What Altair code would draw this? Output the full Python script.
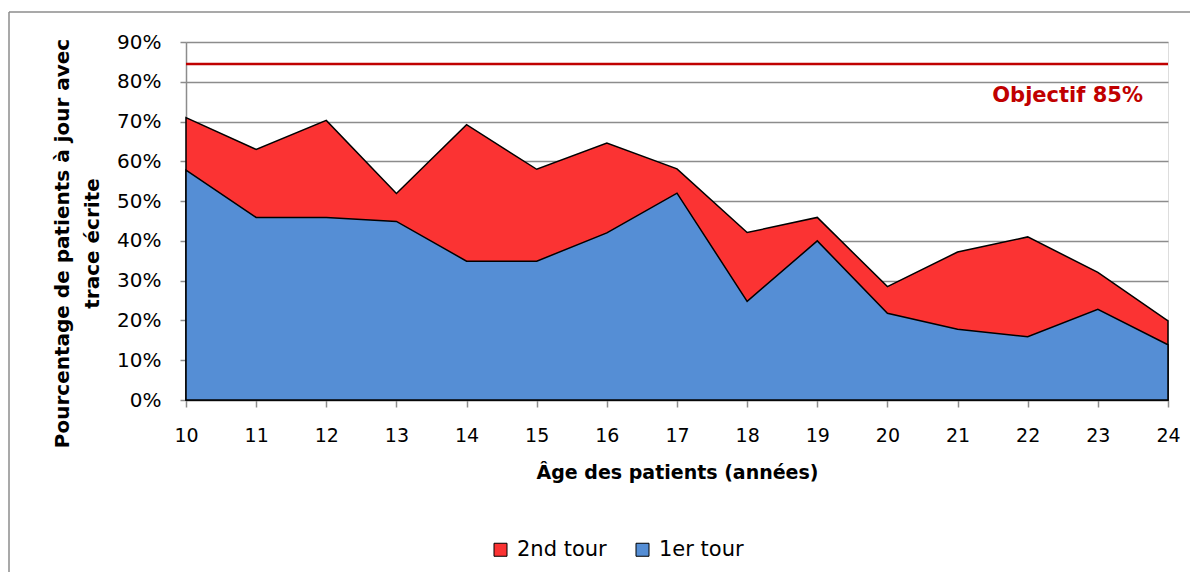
import altair as alt
import pandas as pd

ages = list(range(10, 25))
premier_tour = [57.8, 45.9, 45.9, 44.9, 34.9, 34.9, 42.0, 52.0, 24.8, 40.0, 21.8, 17.8, 15.9, 22.8, 13.9]
total_2nd_tour = [71.0, 63.0, 70.3, 51.9, 69.2, 58.0, 64.6, 58.1, 42.1, 45.9, 28.5, 37.2, 41.0, 32.1, 19.9]
series_names = ["2nd tour", "1er tour"]
series_colors = ["#FB3333", "#558ED5"]
objectif_value = [84.5]
objectif_label = ["Objectif 85%"]
objectif_label_pos = [24, 76.4]

FONT = "DejaVu Sans"
GRID = "#8C8C8C"

rows = []
for a, p, t in zip(ages, premier_tour, total_2nd_tour):
    rows.append({"age": a, "serie": "2nd tour", "val": t})
    rows.append({"age": a, "serie": "1er tour", "val": p})
df = pd.DataFrame(rows)

x_scale = alt.Scale(domain=[10, 24], nice=False, zero=False)
y_scale = alt.Scale(domain=[0, 90], nice=False)

x_axis = alt.Axis(values=ages, format="d", title="Âge des patients (années)",
                  grid=False, tickSize=7, labelPadding=19, titlePadding=18,
                  labelFlush=False, labelOverlap=False,
                  titleFontSize=19, titleFontWeight="bold", labelFontSize=19,
                  domainColor=GRID, tickColor=GRID, domainWidth=1.5, tickWidth=1.5)
y_axis = alt.Axis(values=list(range(0, 91, 10)), labelExpr="datum.value + '%'",
                  title=["Pourcentage de patients à jour avec", "trace écrite"],
                  titleFontSize=20, titleFontWeight="bold", titleLineHeight=30,
                  titleY=201,
                  labelFontSize=20, tickSize=6, labelPadding=19, titlePadding=14,
                  labelOverlap=False, labelFlush=False,
                  grid=True, gridColor=GRID, gridWidth=1.5,
                  domainColor=GRID, tickColor=GRID, domainWidth=1.5, tickWidth=1.5)

x_enc = alt.X("age:Q", scale=x_scale, axis=x_axis)
y_enc = alt.Y("val:Q", scale=y_scale, stack=None, axis=y_axis)
color_enc = alt.Color("serie:N",
                      scale=alt.Scale(domain=series_names, range=series_colors),
                      legend=alt.Legend(title=None, orient="none", direction="horizontal",
                                        legendX=304, legendY=497, symbolType="square",
                                        symbolSize=169, symbolStrokeColor="black",
                                        symbolStrokeWidth=1, labelFontSize=21,
                                        labelOffset=6, columnPadding=25, padding=0))

base = alt.Chart(df)
area_red = base.transform_filter(alt.datum.serie == "2nd tour").mark_area(
    stroke="black", strokeWidth=1.5, opacity=1
).encode(x=x_enc, y=y_enc, color=color_enc)
area_blue = base.transform_filter(alt.datum.serie == "1er tour").mark_area(
    stroke="black", strokeWidth=1.5, opacity=1
).encode(x=x_enc, y=y_enc, color=color_enc)

rule_df = pd.DataFrame({"val": objectif_value})
rule = alt.Chart(rule_df).mark_rule(color="#C00000", strokeWidth=2.5).encode(y=y_enc)

txt_df = pd.DataFrame({"age": [objectif_label_pos[0]], "val": [objectif_label_pos[1]],
                       "label": objectif_label})
txt = alt.Chart(txt_df).mark_text(color="#C00000", fontWeight="bold", fontSize=21, font=FONT,
                                  align="right", baseline="middle", dx=-25).encode(
    x=x_enc, y=y_enc, text="label:N")

border_data = alt.Data(values=[{"k": 1}])
border_left = alt.Chart(border_data).mark_rule(color="#8C8C8C", strokeWidth=1.5).encode(
    x=alt.value(-177), y=alt.value(-30), y2=alt.value(560))
border_top = alt.Chart(border_data).mark_rule(color="#8C8C8C", strokeWidth=1.5).encode(
    x=alt.value(-177), x2=alt.value(1020), y=alt.value(-30))

chart = alt.layer(area_red, area_blue, rule, txt, border_left, border_top).properties(
    width=982, height=358,
    autosize=alt.AutoSizeParams(type="none"),
    padding={"left": 178, "top": 34, "right": 22, "bottom": 172},
).configure_view(stroke=None).configure(font=FONT).configure_axis(
    labelFont=FONT, titleFont=FONT, labelColor="black", titleColor="black"
).configure_legend(labelFont=FONT, labelColor="black")

chart.save("out.html", embed_options={"renderer": "svg", "actions": False})
